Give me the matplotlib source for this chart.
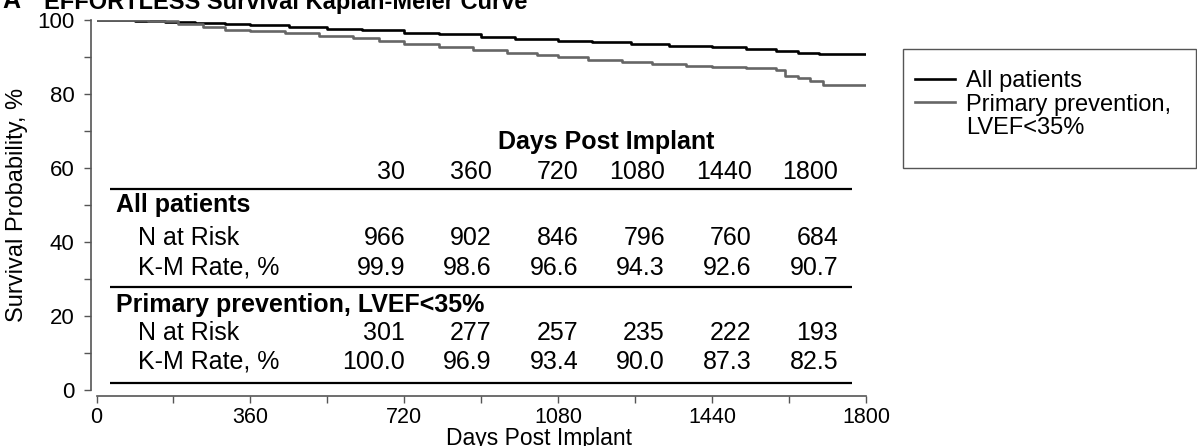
import numpy as np
import matplotlib.pyplot as plt
from matplotlib.lines import Line2D
from matplotlib.patches import Rectangle

plt.rcParams['font.family'] = ['Liberation Sans', 'DejaVu Sans']

# ================================
# DATA
# ================================
# Kaplan-Meier steps, all patients
all_days = [0, 30, 90, 160, 230, 300, 360, 450, 540, 620, 720, 800, 900, 980,
            1080, 1160, 1250, 1340, 1440, 1520, 1590, 1640, 1690, 1800]
all_surv = [100.0, 99.9, 99.7, 99.4, 99.1, 98.8, 98.6, 98.2, 97.7, 97.2, 96.6,
            96.1, 95.5, 94.9, 94.3, 94.0, 93.6, 93.1, 92.6, 92.2, 91.7, 91.2,
            90.7, 90.7]

# Kaplan-Meier steps, primary prevention LVEF<35%
pp_days = [0, 30, 120, 190, 250, 300, 360, 440, 520, 600, 660, 720, 800, 880,
           960, 1030, 1080, 1150, 1230, 1300, 1380, 1440, 1520, 1590, 1610,
           1640, 1670, 1700, 1800]
pp_surv = [100.0, 100.0, 99.6, 98.9, 98.1, 97.4, 96.9, 96.4, 95.8, 95.1, 94.3,
           93.4, 92.6, 91.9, 91.2, 90.6, 90.0, 89.3, 88.6, 88.2, 87.7, 87.3,
           86.9, 86.4, 85.0, 84.2, 83.4, 82.5, 82.5]

# risk table
table_days = ['30', '360', '720', '1080', '1440', '1800']
all_n_risk = ['966', '902', '846', '796', '760', '684']
all_km_rate = ['99.9', '98.6', '96.6', '94.3', '92.6', '90.7']
pp_n_risk = ['301', '277', '257', '235', '222', '193']
pp_km_rate = ['100.0', '96.9', '93.4', '90.0', '87.3', '82.5']

x_ticks = [0, 360, 720, 1080, 1440, 1800]
y_ticks = [0, 20, 40, 60, 80, 100]

# ================================
# FIGURE
# ================================
W, H = 1197, 446
fig = plt.figure(figsize=(W / 100, H / 100), dpi=100)
ax = fig.add_axes([96.5 / W, 1 - 390 / H, (866 - 96.5) / W, (390 - 20) / H])

l1, = ax.step(all_days, all_surv, where='post', color='black', lw=1.9)
l2, = ax.step(pp_days, pp_surv, where='post', color='#666666', lw=1.9)

ax.set_xlim(0, 1800)
ax.set_ylim(0, 100)
ax.set_xticks(x_ticks)
ax.set_xticks(np.arange(180, 1800, 360), minor=True)
ax.set_yticks(y_ticks)
ax.set_yticks(np.arange(10, 100, 20), minor=True)
ax.tick_params(axis='both', which='both', length=5, width=1,
               color='#555555', direction='out')
ax.tick_params(axis='y', which='major', labelsize=16, pad=7)
ax.tick_params(axis='x', which='major', labelsize=15.5, pad=3)
for side in ['top', 'right']:
    ax.spines[side].set_visible(False)
for side in ['left', 'bottom']:
    ax.spines[side].set_color('#555555')
    ax.spines[side].set_linewidth(1.2)
    ax.spines[side].set_position(('outward', 4))

ax.set_xlabel('Days Post Implant', fontsize=16.5, va='top')
ax.xaxis.set_label_coords(0.575, -0.1)
ax.set_ylabel('Survival Probability, %', fontsize=17, va='center')
ax.yaxis.set_label_coords(-0.103, 0.5)

# ================================
# RISK TABLE INSIDE THE PLOT
# ================================
fs = 18
col_x = 722 + np.arange(len(table_days)) * 202.6
line_x0, line_x1 = 32, 1767
y_head, y_days = 67.0, 59.0
y_all, y_all_n, y_all_km = 50.0, 41.1, 33.0
y_pp, y_pp_n, y_pp_km = 23.0, 15.4, 7.6

ax.text(1193, y_head, 'Days Post Implant', fontsize=fs, fontweight='bold',
        ha='center', va='center')
for x, d in zip(col_x, table_days):
    ax.text(x, y_days, d, fontsize=fs, ha='right', va='center')
ax.hlines([54.3, 27.8, 1.9], line_x0, line_x1, color='black', lw=1.6)

ax.text(46, y_all, 'All patients', fontsize=fs, fontweight='bold', va='center')
ax.text(97, y_all_n, 'N at Risk', fontsize=fs, va='center')
ax.text(97, y_all_km, 'K-M Rate, %', fontsize=fs, va='center')
ax.text(46, y_pp, 'Primary prevention, LVEF<35%', fontsize=fs,
        fontweight='bold', va='center')
ax.text(97, y_pp_n, 'N at Risk', fontsize=fs, va='center')
ax.text(97, y_pp_km, 'K-M Rate, %', fontsize=fs, va='center')

for x, a, b, c, d in zip(col_x, all_n_risk, all_km_rate, pp_n_risk, pp_km_rate):
    ax.text(x, y_all_n, a, fontsize=fs, ha='right', va='center')
    ax.text(x, y_all_km, b, fontsize=fs, ha='right', va='center')
    ax.text(x, y_pp_n, c, fontsize=fs, ha='right', va='center')
    ax.text(x, y_pp_km, d, fontsize=fs, ha='right', va='center')

# ================================
# LEGEND (box drawn separately)
# ================================
blank = Line2D([], [], color='none')
leg = fig.legend([l1, l2, blank], ['All patients', 'Primary prevention,', 'LVEF<35%'],
                 loc='upper left', bbox_to_anchor=(915 / W, 1 - 70 / H),
                 fontsize=17, frameon=False, handlelength=1.7,
                 handletextpad=0.47, labelspacing=0.07, borderpad=0,
                 borderaxespad=0)
fig.patches.append(Rectangle((903 / W, 1 - 168 / H), 293 / W, 119 / H,
                             transform=fig.transFigure, fill=False,
                             edgecolor='#555555', lw=1.0))

# ================================
# TITLE (cut off at the top)
# ================================
fig.text(2 / W, 1 - 8.5 / H, 'A', fontsize=18, fontweight='bold', va='baseline')
fig.text(44 / W, 1 - 8.5 / H, 'EFFORTLESS Survival Kaplan-Meier Curve',
         fontsize=17, fontweight='bold', va='baseline')

fig.savefig('out.png', dpi=100)
